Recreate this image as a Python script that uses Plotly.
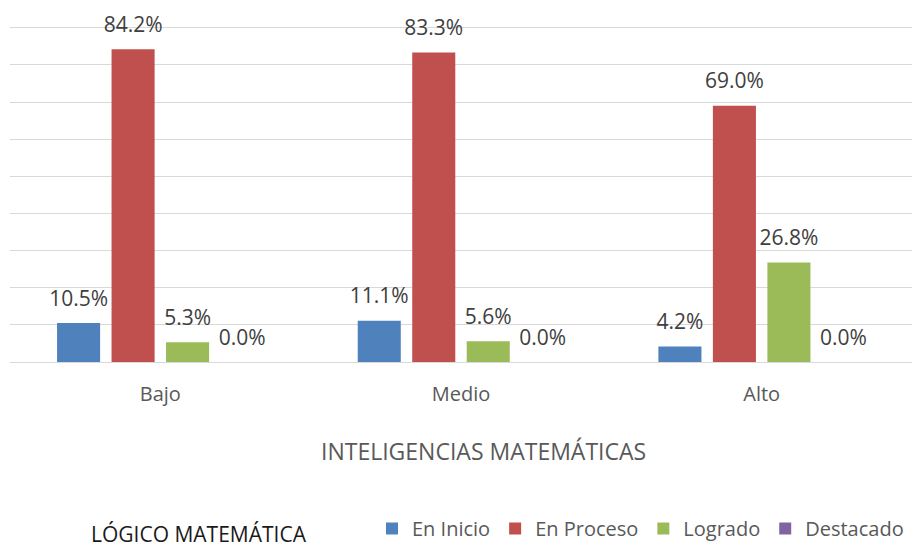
import plotly.graph_objects as go

categories = ["Bajo", "Medio", "Alto"]
series_names = ["En Inicio", "En Proceso", "Logrado", "Destacado"]
en_inicio = [10.5, 11.1, 4.2]
en_proceso = [84.2, 83.3, 69.0]
logrado = [5.3, 5.6, 26.8]
destacado = [0.0, 0.0, 0.0]
series_values = [en_inicio, en_proceso, logrado, destacado]
colors = ["#4F81BD", "#C0504D", "#9BBB59", "#8064A2"]

FONT = "Open Sans"
W, H = 918, 548
ml, mr, mt, mb = 10, 6, 24, 186
pw = W - ml - mr
ph = H - mt - mb

def px_x(x):
    return (x - ml) / pw

def px_y(y):
    return (H - mb - y) / ph

fig = go.Figure()
for name, vals, col in zip(series_names, series_values, colors):
    fig.add_trace(go.Bar(
        x=categories, y=vals, name=name,
        marker=dict(color=col, line=dict(width=0)),
        hoverinfo="skip",
    ))
for name, vals in zip(series_names, series_values):
    fig.add_trace(go.Scatter(
        x=categories, y=vals, name=name + " labels",
        mode="markers+text",
        marker=dict(size=18, opacity=0),
        text=[f"{v:.1f}%" for v in vals],
        textposition="top center",
        textfont=dict(family=FONT, size=21, color="#404040"),
        cliponaxis=False, showlegend=False, hoverinfo="skip",
    ))

fig.update_layout(
    width=W, height=H,
    margin=dict(l=ml, r=mr, t=mt, b=mb, autoexpand=False),
    paper_bgcolor="white", plot_bgcolor="white",
    barmode="group", bargap=0.275, bargroupgap=0.21,
    scattermode="group", scattergap=0.275,
    font=dict(family=FONT, color="#595959"),
    showlegend=True,
    legend=dict(
        orientation="h", xref="container", yref="container",
        x=(372) / W, xanchor="left",
        y=-0.007, yanchor="bottom",
        font=dict(family=FONT, size=20, color="#595959"),
        traceorder="normal", itemclick=False,
    ),
    xaxis=dict(
        type="category", range=[-0.5, 2.5], showgrid=False,
        showline=False, ticks="", ticklabelstandoff=18,
        tickfont=dict(family=FONT, size=20, color="#595959"),
        fixedrange=True,
    ),
    yaxis=dict(
        range=[0, 91], dtick=10, showgrid=True, gridcolor="#D9D9D9",
        gridwidth=1.3, zeroline=True, zerolinecolor="#D9D9D9", zerolinewidth=1.3,
        showticklabels=False, ticks="", fixedrange=True,
    ),
    annotations=[
        dict(text="INTELIGENCIAS MATEMÁTICAS", xref="paper", yref="paper",
             x=px_x(483), y=px_y(451), xanchor="center", yanchor="middle",
             showarrow=False, font=dict(family=FONT, size=23, color="#595959")),
        dict(text="LÓGICO MATEMÁTICA", xref="paper", yref="paper",
             x=px_x(199), y=px_y(534), xanchor="center", yanchor="middle",
             showarrow=False, font=dict(family=FONT, size=21, color="#1a1a1a")),
    ],
)

fig.write_html("out.html", config={"displayModeBar": False},
               post_script="document.body.style.margin='0';document.body.style.overflow='hidden';")
